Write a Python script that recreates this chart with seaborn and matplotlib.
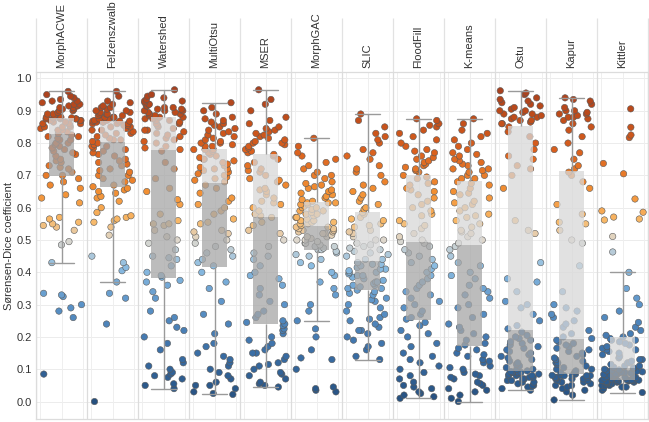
import numpy as np
import pandas as pd
import matplotlib
matplotlib.use("Agg")
import matplotlib.pyplot as plt
import seaborn as sns
from matplotlib.colors import LinearSegmentedColormap

methods = ["MorphACWE", "Felzenszwalb", "Watershed", "MultiOtsu", "MSER", "MorphGAC",
           "SLIC", "FloodFill", "K-means", "Ostu", "Kapur", "Kittler"]

# Sørensen-Dice scores per method
morph_acwe = [0.085, 0.26, 0.28, 0.29, 0.30, 0.325, 0.33, 0.335, 0.43, 0.485, 0.495, 0.53, 0.54,
              0.545, 0.55, 0.555, 0.565, 0.57, 0.615, 0.63, 0.64, 0.66, 0.67, 0.68, 0.69,
              0.70, 0.70, 0.71, 0.72, 0.725, 0.73, 0.74, 0.745, 0.75, 0.76, 0.765, 0.77, 0.775,
              0.78, 0.785, 0.79, 0.795, 0.80, 0.80, 0.81, 0.81, 0.815, 0.82, 0.82, 0.825,
              0.83, 0.83, 0.835, 0.84, 0.84, 0.845, 0.85, 0.85, 0.85, 0.855, 0.86, 0.86, 0.86,
              0.865, 0.865, 0.87, 0.87, 0.87, 0.875, 0.875, 0.875, 0.875, 0.878, 0.878, 0.878,
              0.88, 0.88, 0.885, 0.885, 0.89, 0.89, 0.895, 0.90, 0.90, 0.905, 0.905, 0.91, 0.91,
              0.915, 0.915, 0.92, 0.92, 0.925, 0.93, 0.93, 0.935, 0.94, 0.945, 0.95, 0.96]
felzenszwalb = [0.0, 0.24, 0.32, 0.335, 0.37, 0.405, 0.415, 0.43, 0.45, 0.515, 0.54, 0.555, 0.56,
                0.565, 0.57, 0.575, 0.585, 0.60, 0.62, 0.63, 0.635, 0.645, 0.65, 0.655, 0.66,
                0.665, 0.67, 0.68, 0.685, 0.69, 0.70, 0.70, 0.71, 0.715, 0.72, 0.73, 0.735, 0.74,
                0.745, 0.75, 0.76, 0.765, 0.77, 0.775, 0.78, 0.785, 0.79, 0.79, 0.795, 0.80,
                0.805, 0.81, 0.81, 0.815, 0.82, 0.825, 0.83, 0.83, 0.835, 0.84, 0.84, 0.845, 0.85,
                0.85, 0.855, 0.855, 0.86, 0.86, 0.86, 0.865, 0.865, 0.865, 0.868, 0.868, 0.868,
                0.87, 0.87, 0.875, 0.875, 0.88, 0.88, 0.88, 0.885, 0.885, 0.89, 0.89, 0.89, 0.895,
                0.895, 0.90, 0.90, 0.905, 0.91, 0.91, 0.915, 0.92, 0.925, 0.93, 0.945, 0.96]
watershed = [0.04, 0.05, 0.055, 0.07, 0.075, 0.08, 0.085, 0.09, 0.10, 0.11, 0.12, 0.13, 0.16,
             0.18, 0.20, 0.22, 0.23, 0.25, 0.26, 0.28, 0.32, 0.34, 0.36, 0.37, 0.375,
             0.385, 0.39, 0.40, 0.42, 0.44, 0.445, 0.45, 0.47, 0.49, 0.50, 0.51, 0.53, 0.545,
             0.55, 0.55, 0.56, 0.58, 0.61, 0.625, 0.65, 0.66, 0.69, 0.72, 0.74, 0.775,
             0.78, 0.785, 0.79, 0.80, 0.805, 0.81, 0.815, 0.82, 0.825, 0.83, 0.835, 0.84, 0.84,
             0.845, 0.85, 0.855, 0.86, 0.86, 0.865, 0.87, 0.87, 0.875, 0.875, 0.88, 0.88,
             0.885, 0.885, 0.89, 0.89, 0.895, 0.895, 0.90, 0.90, 0.90, 0.905, 0.905, 0.91, 0.91,
             0.915, 0.915, 0.92, 0.92, 0.925, 0.93, 0.93, 0.935, 0.94, 0.945, 0.95, 0.965]
multi_otsu = [0.022, 0.025, 0.03, 0.04, 0.05, 0.05, 0.06, 0.07, 0.08, 0.09, 0.10, 0.11, 0.12,
              0.13, 0.14, 0.15, 0.17, 0.18, 0.21, 0.24, 0.27, 0.31, 0.35, 0.37, 0.40,
              0.42, 0.43, 0.44, 0.45, 0.46, 0.47, 0.48, 0.49, 0.50, 0.51, 0.52, 0.525, 0.53,
              0.55, 0.555, 0.565, 0.58, 0.59, 0.60, 0.61, 0.62, 0.63, 0.645, 0.66, 0.67,
              0.68, 0.685, 0.69, 0.695, 0.70, 0.705, 0.71, 0.715, 0.72, 0.72, 0.725, 0.73, 0.735,
              0.74, 0.745, 0.75, 0.75, 0.755, 0.76, 0.765, 0.77, 0.775, 0.78, 0.78, 0.78,
              0.79, 0.79, 0.795, 0.80, 0.80, 0.805, 0.81, 0.815, 0.82, 0.825, 0.83, 0.835, 0.84,
              0.845, 0.85, 0.855, 0.86, 0.865, 0.87, 0.875, 0.88, 0.89, 0.90, 0.91, 0.925]
mser = [0.045, 0.05, 0.055, 0.06, 0.07, 0.08, 0.085, 0.09, 0.10, 0.11, 0.115, 0.12, 0.13,
        0.14, 0.15, 0.15, 0.16, 0.17, 0.18, 0.19, 0.20, 0.21, 0.22, 0.225, 0.235,
        0.24, 0.245, 0.25, 0.26, 0.27, 0.28, 0.30, 0.31, 0.33, 0.35, 0.36, 0.38, 0.39,
        0.40, 0.42, 0.44, 0.45, 0.46, 0.48, 0.50, 0.52, 0.53, 0.545, 0.555, 0.57,
        0.575, 0.58, 0.59, 0.60, 0.61, 0.615, 0.62, 0.63, 0.64, 0.65, 0.655, 0.66, 0.67,
        0.68, 0.685, 0.69, 0.70, 0.71, 0.715, 0.72, 0.73, 0.74, 0.75, 0.76, 0.765,
        0.77, 0.775, 0.78, 0.785, 0.79, 0.795, 0.80, 0.80, 0.805, 0.81, 0.815, 0.82, 0.825,
        0.83, 0.835, 0.84, 0.845, 0.85, 0.86, 0.87, 0.88, 0.90, 0.92, 0.935, 0.965]
morph_gac = [0.03, 0.035, 0.04, 0.045, 0.10, 0.13, 0.135, 0.16, 0.20, 0.225, 0.25, 0.28, 0.30,
             0.33, 0.35, 0.37, 0.39, 0.40, 0.42, 0.43, 0.44, 0.45, 0.455, 0.46, 0.465,
             0.47, 0.47, 0.475, 0.48, 0.48, 0.485, 0.49, 0.49, 0.495, 0.50, 0.50, 0.505, 0.51,
             0.51, 0.515, 0.52, 0.52, 0.525, 0.525, 0.53, 0.53, 0.535, 0.535, 0.54, 0.54,
             0.545, 0.55, 0.55, 0.555, 0.555, 0.56, 0.56, 0.565, 0.57, 0.57, 0.575, 0.58, 0.58,
             0.585, 0.59, 0.59, 0.595, 0.60, 0.60, 0.605, 0.61, 0.61, 0.615, 0.615, 0.615,
             0.62, 0.625, 0.63, 0.635, 0.64, 0.645, 0.65, 0.655, 0.66, 0.665, 0.67, 0.675, 0.68,
             0.69, 0.70, 0.70, 0.71, 0.72, 0.73, 0.74, 0.75, 0.76, 0.77, 0.79, 0.815]
slic = [0.13, 0.14, 0.16, 0.17, 0.18, 0.19, 0.20, 0.21, 0.22, 0.22, 0.23, 0.24, 0.25,
        0.255, 0.26, 0.27, 0.28, 0.29, 0.30, 0.31, 0.315, 0.32, 0.33, 0.335, 0.34,
        0.345, 0.35, 0.35, 0.355, 0.36, 0.36, 0.365, 0.37, 0.37, 0.375, 0.38, 0.385, 0.39,
        0.39, 0.395, 0.40, 0.40, 0.405, 0.41, 0.41, 0.415, 0.42, 0.425, 0.425, 0.43,
        0.44, 0.44, 0.45, 0.455, 0.46, 0.465, 0.47, 0.475, 0.48, 0.485, 0.49, 0.50, 0.50,
        0.51, 0.52, 0.525, 0.53, 0.54, 0.545, 0.55, 0.56, 0.565, 0.57, 0.58, 0.585,
        0.595, 0.60, 0.61, 0.62, 0.63, 0.64, 0.65, 0.66, 0.67, 0.68, 0.70, 0.71, 0.72,
        0.73, 0.75, 0.76, 0.77, 0.78, 0.80, 0.81, 0.82, 0.83, 0.85, 0.87, 0.89]
flood_fill = [0.01, 0.015, 0.02, 0.025, 0.03, 0.04, 0.045, 0.05, 0.06, 0.07, 0.08, 0.09, 0.10,
              0.11, 0.12, 0.13, 0.14, 0.15, 0.17, 0.18, 0.20, 0.21, 0.22, 0.235, 0.245,
              0.255, 0.26, 0.27, 0.28, 0.29, 0.30, 0.31, 0.32, 0.33, 0.34, 0.35, 0.36, 0.37,
              0.38, 0.39, 0.40, 0.41, 0.42, 0.43, 0.44, 0.45, 0.46, 0.47, 0.48, 0.49,
              0.495, 0.50, 0.51, 0.52, 0.535, 0.545, 0.55, 0.56, 0.575, 0.58, 0.59, 0.60, 0.61,
              0.62, 0.63, 0.64, 0.65, 0.655, 0.66, 0.67, 0.675, 0.68, 0.69, 0.695, 0.70,
              0.71, 0.715, 0.72, 0.725, 0.73, 0.735, 0.74, 0.745, 0.75, 0.755, 0.76, 0.77, 0.775,
              0.78, 0.79, 0.80, 0.81, 0.82, 0.83, 0.84, 0.85, 0.855, 0.86, 0.87, 0.875]
k_means = [0.0, 0.01, 0.02, 0.03, 0.035, 0.04, 0.05, 0.055, 0.06, 0.07, 0.075, 0.08, 0.085,
           0.09, 0.10, 0.105, 0.11, 0.12, 0.125, 0.13, 0.14, 0.145, 0.15, 0.16, 0.165,
           0.175, 0.18, 0.19, 0.20, 0.21, 0.22, 0.23, 0.24, 0.26, 0.27, 0.29, 0.30, 0.32,
           0.33, 0.34, 0.35, 0.36, 0.38, 0.39, 0.40, 0.42, 0.43, 0.45, 0.47, 0.48,
           0.49, 0.50, 0.51, 0.52, 0.525, 0.53, 0.54, 0.55, 0.56, 0.57, 0.575, 0.58, 0.59,
           0.60, 0.61, 0.615, 0.62, 0.63, 0.64, 0.645, 0.65, 0.66, 0.67, 0.675, 0.68,
           0.69, 0.69, 0.70, 0.70, 0.71, 0.715, 0.72, 0.72, 0.73, 0.735, 0.74, 0.745, 0.75,
           0.76, 0.765, 0.77, 0.78, 0.79, 0.80, 0.81, 0.82, 0.83, 0.84, 0.86, 0.875]
ostu = [0.035, 0.04, 0.045, 0.05, 0.05, 0.055, 0.06, 0.06, 0.065, 0.065, 0.07, 0.07, 0.075,
        0.075, 0.08, 0.08, 0.08, 0.085, 0.085, 0.085, 0.09, 0.09, 0.09, 0.09, 0.093,
        0.095, 0.10, 0.10, 0.105, 0.11, 0.115, 0.12, 0.125, 0.13, 0.135, 0.14, 0.145, 0.15,
        0.155, 0.16, 0.165, 0.17, 0.175, 0.18, 0.185, 0.19, 0.195, 0.20, 0.205, 0.215,
        0.225, 0.235, 0.25, 0.27, 0.29, 0.30, 0.31, 0.34, 0.37, 0.38, 0.43, 0.52, 0.53,
        0.56, 0.66, 0.70, 0.72, 0.73, 0.75, 0.76, 0.78, 0.80, 0.82, 0.835, 0.85,
        0.86, 0.86, 0.865, 0.87, 0.87, 0.875, 0.88, 0.88, 0.885, 0.89, 0.89, 0.895, 0.90,
        0.90, 0.905, 0.91, 0.915, 0.92, 0.925, 0.93, 0.935, 0.94, 0.95, 0.955, 0.962]
kapur = [0.005, 0.02, 0.03, 0.035, 0.04, 0.045, 0.05, 0.05, 0.055, 0.06, 0.06, 0.065, 0.065,
         0.07, 0.07, 0.07, 0.075, 0.075, 0.075, 0.08, 0.08, 0.08, 0.08, 0.08, 0.081,
         0.085, 0.09, 0.09, 0.095, 0.10, 0.10, 0.105, 0.11, 0.115, 0.12, 0.12, 0.125, 0.13,
         0.135, 0.14, 0.145, 0.15, 0.155, 0.16, 0.165, 0.17, 0.175, 0.18, 0.185, 0.19,
         0.195, 0.20, 0.21, 0.22, 0.23, 0.24, 0.25, 0.26, 0.27, 0.28, 0.29, 0.30, 0.34,
         0.42, 0.49, 0.50, 0.53, 0.55, 0.555, 0.58, 0.61, 0.66, 0.68, 0.70, 0.71,
         0.72, 0.73, 0.75, 0.77, 0.78, 0.80, 0.82, 0.84, 0.85, 0.86, 0.87, 0.875, 0.88,
         0.88, 0.885, 0.89, 0.89, 0.895, 0.90, 0.90, 0.91, 0.92, 0.93, 0.935, 0.94]
kittler = [0.028, 0.035, 0.04, 0.045, 0.045, 0.05, 0.05, 0.05, 0.055, 0.055, 0.055, 0.06, 0.06,
           0.06, 0.06, 0.062, 0.062, 0.064, 0.064, 0.065, 0.065, 0.066, 0.066, 0.066, 0.067,
           0.068, 0.07, 0.07, 0.072, 0.074, 0.075, 0.076, 0.078, 0.08, 0.08, 0.082, 0.084, 0.085,
           0.086, 0.088, 0.09, 0.09, 0.092, 0.094, 0.095, 0.097, 0.098, 0.10, 0.102, 0.104,
           0.106, 0.11, 0.11, 0.115, 0.12, 0.12, 0.125, 0.13, 0.13, 0.135, 0.14, 0.145, 0.15,
           0.155, 0.16, 0.16, 0.165, 0.17, 0.175, 0.18, 0.185, 0.19, 0.19, 0.195, 0.20,
           0.205, 0.21, 0.22, 0.23, 0.245, 0.26, 0.28, 0.30, 0.32, 0.35, 0.40, 0.463, 0.511,
           0.562, 0.565, 0.571, 0.586, 0.59, 0.627, 0.705, 0.737, 0.817, 0.825, 0.849, 0.906]

scores = [morph_acwe, felzenszwalb, watershed, multi_otsu, mser, morph_gac,
          slic, flood_fill, k_means, ostu, kapur, kittler]

df = pd.DataFrame({
    "method": np.repeat(methods, [len(s) for s in scores]),
    "dice": np.concatenate(scores),
})

# orange-blue diverging, blue for low scores
cmap = LinearSegmentedColormap.from_list("orblue", [
    (0.00, "#26507f"), (0.15, "#3a6ea5"), (0.30, "#5b93c8"), (0.42, "#8cbde2"),
    (0.50, "#ddd8cf"), (0.56, "#f8b867"), (0.65, "#f28f32"), (0.78, "#d95f1d"),
    (0.90, "#bb4a1b"), (1.00, "#9e3d22")])

sns.set_style("white")
plt.rcParams["font.family"] = ["Liberation Sans", "DejaVu Sans"]
np.random.seed(7)

fig = plt.figure(figsize=(6.49, 4.22), dpi=100)
ax = fig.add_axes([36 / 649, 3 / 422, 612 / 649, 347 / 422])

n = len(methods)
box_w = 0.49

# grid
for v in np.arange(0, 1.01, 0.1):
    ax.axhline(v, color="#ececec", lw=0.7, zorder=0)
for i in range(n):
    for dx in (-0.43, 0.0, 0.43):
        ax.axvline(i + dx, color="#efefef", lw=0.7, zorder=0)
for i in range(n + 1):
    ax.axvline(i - 0.5, color="#dcdcdc", lw=0.9, zorder=0)
ax.vlines(np.arange(n + 1) - 0.5, 1.0, 1.156, transform=ax.get_xaxis_transform(),
          colors="#e2e2e2", lw=0.9, clip_on=False)

sns.stripplot(data=df, x="method", y="dice", hue="dice", order=methods,
              palette=cmap, hue_norm=(0, 1), jitter=0.41, size=4.6,
              linewidth=0.4, edgecolor="#5a5a5a", legend=False, ax=ax, zorder=2)

n0 = len(ax.lines)
sns.boxplot(data=df, x="method", y="dice", order=methods, width=box_w,
            showfliers=False, fill=False, color="#9a9a9a", linecolor="#9a9a9a",
            linewidth=1.0, boxprops={"visible": False},
            medianprops={"visible": False}, ax=ax)
for ln in ax.lines[n0:]:
    ln.set_color("#9a9a9a")
    xd, yd = np.asarray(ln.get_xdata()), np.asarray(ln.get_ydata())
    if len(xd) == 2 and yd[0] == yd[1] and xd[0] != xd[1]:
        c = xd.mean()
        ln.set_xdata([c - box_w / 2, c + box_w / 2])
    ln.set_zorder(4)

# two-tone box: Q1-median darker, median-Q3 lighter
q1 = [np.percentile(s, 25) for s in scores]
med = [np.percentile(s, 50) for s in scores]
q3 = [np.percentile(s, 75) for s in scores]
pos = np.arange(n)
ax.bar(pos, np.subtract(med, q1), bottom=q1, width=box_w, color="#a6a6a6",
       alpha=0.75, lw=0, zorder=3)
ax.bar(pos, np.subtract(q3, med), bottom=med, width=box_w, color="#d8d8d8",
       alpha=0.75, lw=0, zorder=3)

ax.set_xlim(-0.5, n - 0.5)
ax.set_ylim(-0.054, 1.02)
ax.set_yticks(np.arange(0, 1.01, 0.1))
ax.set_yticklabels([f"{v:.1f}" for v in np.arange(0, 1.01, 0.1)])
ax.xaxis.tick_top()
ax.set_xticks(pos)
ax.set_xticklabels(methods, rotation=90)
ax.tick_params(axis="x", length=0, pad=3, labelsize=8, labelcolor="#333333")
ax.tick_params(axis="y", length=0, pad=3, labelsize=8, labelcolor="#333333")
ax.set_xlabel("")
ax.set_ylabel("Sørensen-Dice coefficient", fontsize=8, color="#333333", labelpad=2)
for side in ax.spines:
    ax.spines[side].set_color("#dcdcdc")
    ax.spines[side].set_linewidth(0.9)

fig.savefig("out.png", dpi=100)
